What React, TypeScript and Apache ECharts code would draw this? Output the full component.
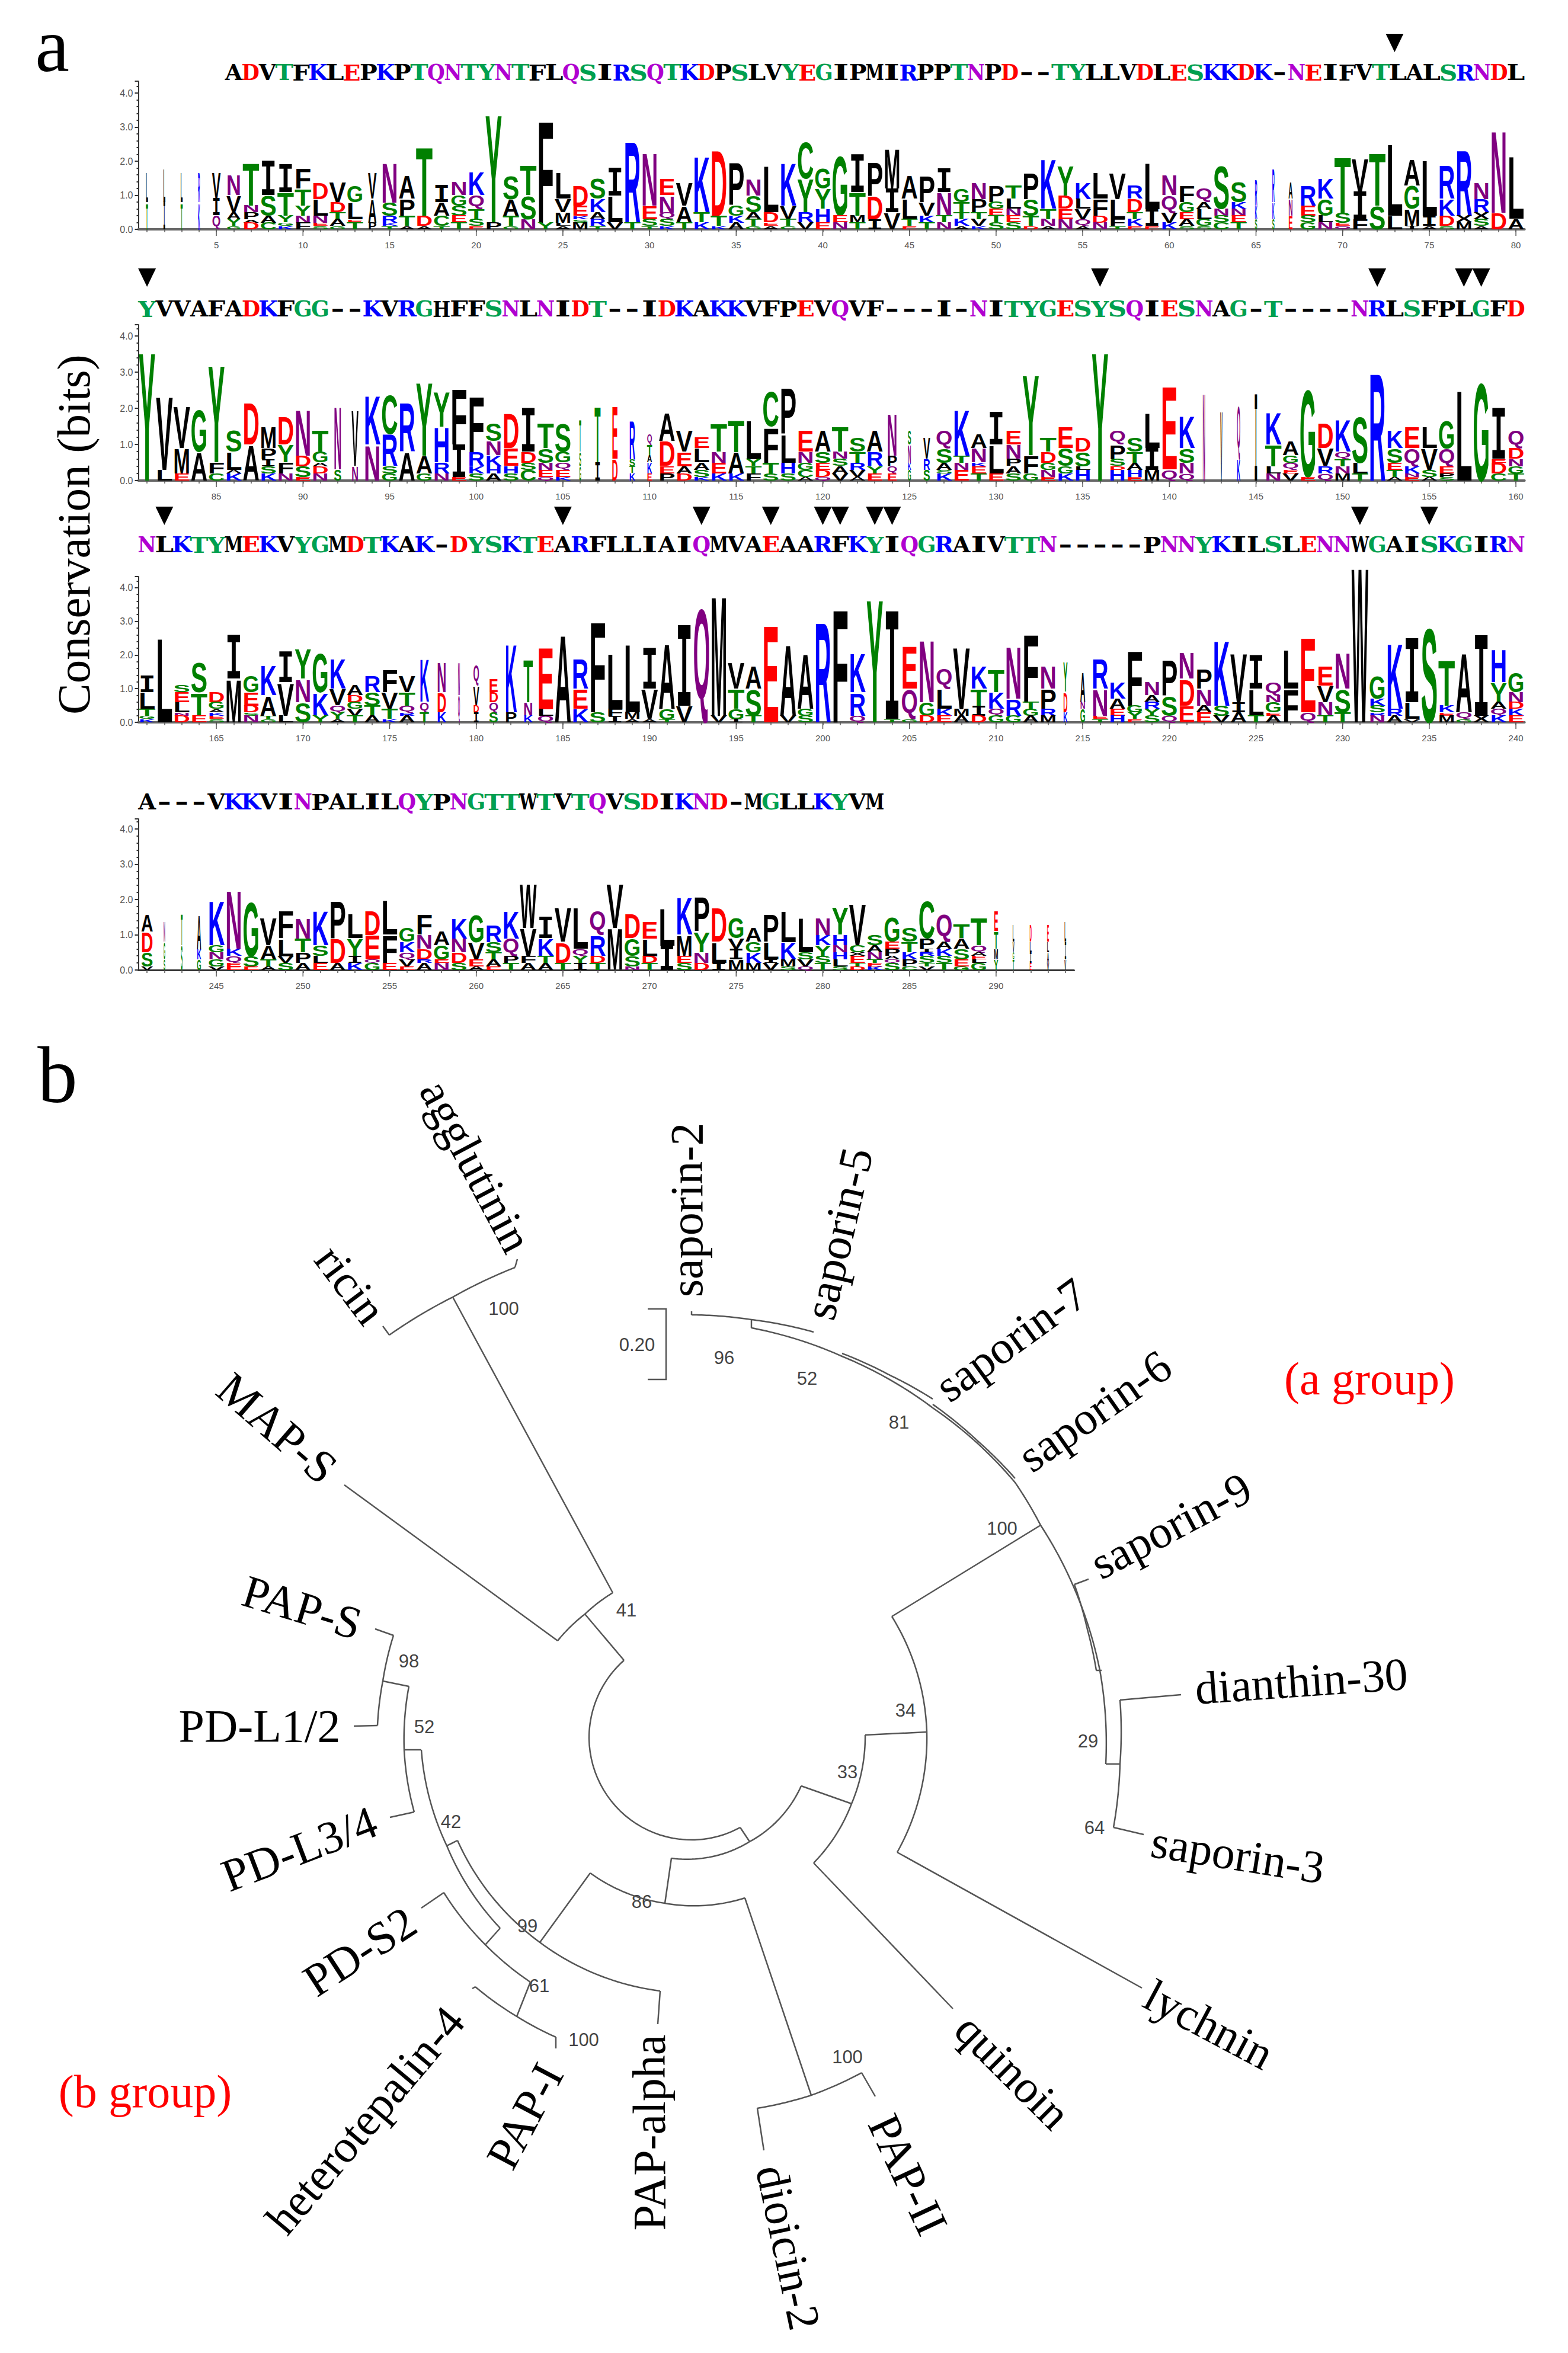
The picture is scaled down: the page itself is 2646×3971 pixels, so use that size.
import React, { useEffect, useRef } from "react";
import * as echarts from "echarts";

// ---------- panel a: sequence logo, "width%:" prefix then LETTER + height in tenths of a bit, top to bottom
const logoRow1 = [
  "12:L9T8","12:L10I8","12:L9T8","12:R9K8","50:V8I5Q4","85:N6V5A2Y2G1","T13N2P2A1D2","I10S6A2C2","I8T7Y2G1K1","F6T5Y3N2F2",
  "D5L5N2E1S1","V6D3T2A2G1","G5L5E1T2","50:V8A7P2","N12S4R2K1T1","A7P5T3A1","T21D3A1","I5A4C3T1","N4G3S3E2T2","K7Q4T3S2E1",
  "Y33P2","S7A5T3G1","T9S7N3","F31Y2","L8V4M3L1A1","D6E3K1S1M2","S6K4A2R2T1","I8L8V2","R25T2","N16E4S2T1",
  "E5N5Q2S2K1","V7A5T2","K17T3K2","D20T3K1","P13G3K2A2","N5S5A2T2G1","L14D3E1A1","K13V4T2C1","C11Y10R3V2","G6Y6H4E2",
  "G18E2N2","I11T7M2T2","P10D7I3","M12I7V5","A7L6T2E1","P8V4K2T2","I7N7T2N2","G4T3T2K2A1","N5P4T2V2K1","P5G2E2T2S2",
  "T4L3N2E2S2","P8S5T3D1","K15T3N2A1","Y9D4E3N3","K5L3V3Q2A1","L8F5D2N2","V8L6F2T1","R4D4T2K2E1","L14I5E1","N6Q5V3K2",
  "F5G3E2A2S1","Q4A2L3G2S1","S13N2S2C2","S6K2N2E2T2","14:R8K4S3","14:R10K5S3","25:A5N5E4","R6E3S2G2","K6G5L2N2","T17S3E1Q1",
  "V10I8F3","T16S7","L22L4","A8G7M5I1","L17I3A1","R10K5D3S1","R20X2M2","N5R4X2S2A1","N25D5","L19A3"
];
const logoRow2 = [
  "Y37","V21L3","V12M7E2","G12A8","Y28F3C2","S6L5A1K2","D12A10","M6P3I2S2K2","D8Y5F3N2","N13D3S3E1",
  "T6G3A1D2N2","45:N18S3","40:V16N4","K14N10","C11R9S2G2","R14A8","Y21A5G2","Y10H10R3N2","F16I9E1","F16R4K2S2",
  "S5N4K3H2A2","D10E5H2S2","I12D3S2C3","T7S4N2E2Q1","S8G3Q2E2K1","12:T9S4G4","35:T16I5","35:E15D6","35:R11S2T2K2","30:Q3T3A2K3E2",
  "A8D7E2P2","V6E4A2D2","E3L4A2S2K1","T8N3E3K2","T9A6K2","L11Y2T2F2","C10F10T3S2","P13L8H3S2","E6N3G2C2A1","A6S3E2D2Q1",
  "T7N2S2A2V2","S4T3R2V2A1","A6R4Y2E2","60:N12P3Q2E2","20:S4N5K2G3","40:V6R3S3","Q5S4A2S1K2","K13T2N2E3","A4N4K1E2T2","I9L8E2",
  "E4N4P2A2S2","Y23F5G2","T4D3G2N2E1","E6S5G2K2","D4S4L1H3","Y37","Q4P4S2D1H3","S4T3A2H2E1","L10I6M3","E24Q3",
  "K9S4N3Q2","15:N25","12:V20","20:Q15K6","18:I24","K9T6L2N2","A4G2Q2E1V2","G25E1","D7V5R2Q2","K9Q2T2N2M2",
  "S13L3T2","R31","K5S4E2T2A1","E6Q5K2N1E1","L6V6S2A1","G8Q5E2P1S1","L26","G28","I14E1D3C2","Q5D3N2G2T2"
];
const logoRow3 = [
  "I5L5T2G1K1","L26","S2E3L3N1D2","S9T7E2","D3G2A1K1E1S1","I13M13","G5E4D2S1N2","K9A6T1G1","I9V10L2","Y9N7S6",
  "G12K7Y2","K9V5Q2Y2A1","A3D2G2V2T2","R5S4T3A2","F7V5T3K1","V5T4Q2R1A2","55:K13Q3T3","55:N9D6K3","12:N10Q8","35:Q6V6D2I3",
  "55:E4D3Q3S3","70:K21P3","55:T13N4K2","E19L2Q2","A27","R9E6K4","F28S3","L17F2I2","L21M2A1","I12V9A1",
  "A20G3T1","I24V5","Q35","M37V2","V8T6G3I1","A7S8T2","E30","A22V2","A17G2S2","R31",
  "F35","K12R7Q2","Y38","I32T1","E13Q9G1","N19G4D2","Q6L6K2E2","V19M2A2","K7T5I3D2","T7K5Q2G2",
  "N16R5G2","F21T2G2A2","N7P6R2M2","25:Y9D6K3","30:A9N2G4","R9N8E1T1","K5A3E2H2","F17G2Y2E1","N4A2R2Y2S2","P11S6Q2",
  "N8D8E5","P6N5A2E3","K20S3V2","V15I3A3","I10L8T2","Q4N2G3E1A2","L12F10","E23Q3","E6V5N4T2","N11S7T3",
  "W48","G7K2S2R1N2","K20R2A2","I19L5V1","S29","T14K2E1M2","A18Q2G1","I24X2","H10Y6A2Q2K2","G6N3D2K2E2"
];
const logoRow4 = [
  "70:A5D6S4V1","10:N6G5S3","10:T9S7","25:A10K3G3","K13G2N2G2V1","N17K2Q2E1E1","G16S3E1","V8A4T2A1","F8L5V2S2","N6T4P3A2",
  "K10S3L2E2","P11D7A2","L7Y5I2K2","D7E7Q1G2","L10F8E2","G4K3Q2V2E1","F6N4D3R1A2","A4G4E1N2","K6N4D3S2","G8V5E2A1",
  "R5S3T2A2E1","K8Q5P2T2","W13V8F2A2","I6K5T2A2","V10D6T2","L12Q2Y2I2","Q7R6D2T2","V13M12","D7G5S3N1","E5L5D2T2",
  "L11I7","K11M6E2S2","P10Y6N3D2","D10L6I2","G6V3I3M3","A4G3K3M2","P8L5I1V2","L9K5M2S1","L10S2V2Q1","N5K3Y3S2T2",
  "Y8H3N2H2L2S1","V12C2X1E2T1D1","S3A2N2T1E1K1","G7E2P2A1Q1S2","S4T3K2P2C1","C11P3I1R1S2T1V1","Q8A2K2S2T2","T4A3S3E2G1","T8Q2A1E1L1G2","25:E6T5M3Y3",
  "10:L5V3G2T3","12:D5L3I3E2","12:E5L3A3V2","10:L6I5V3"
];
const sequenceRows = [
  "ADVTFKLEPKPTQNTYNTFLQSIRSQTKDPSLVYEGIPMIRPPTNPD--TYLLVDLESKKDK-NEIFVTLALSRNDL",
  "YVVAFADKFGG--KVRGHFFSNLNIDT--IDKAKKVFPEVQVF---I-NITYGESYSQIESNAG-T----NRLSFPLGFD",
  "NLKTYMEKVYGMDTKAK-DYSKTEARFLLIAIQMVAEAARFKYIQGRAIVTTN-----PNNYKILSLENNWGAISKGIRN",
  "A---VKKVINPALILQYPNGTTWTVTQVSDIKND-MGLLKYVM",
];
const arrowsRow1 = [73];
const arrowsRow2 = [81, 136, 152, 157, 158];
const arrowsRow3 = [162, 185, 193, 197, 200, 201, 203, 204, 231, 235];
const arrowsRow4: number[] = [];

// ---------- panel b: tree branches in page coordinates (hidden axes 0-2646, 0-3971)
const treeCentre = [1169, 2934];
const arcBranches = [
  [[657,2253],[764,2189],[869,2139]],
  [[1034,2688],[987,2724],[941,2769]],
  [[1053,2802],[994,2934],[1169,3105],[1249,3084]],
  [[1133,3136],[1265,3108],[1352,3014]],
  [[1460,2928],[1437,3044],[1373,3144]],
  [[1505,2728],[1564,2923],[1514,3126]],
  [[1268,2241],[1421,2289],[1574,2376],[1713,2502],[1756,2574],[1813,2681],[1856,2819],[1866,2977]],
  [[1167,2219],[1268,2227],[1373,2248]],
  [[1421,2284],[1500,2320],[1574,2361]],
  [[1574,2370],[1650,2432],[1713,2495]],
  [[1813,2674],[1835,2750],[1850,2819]],
  [[1890,2869],[1890,2977],[1879,3084]],
  [[996,3161],[1122,3212],[1257,3203]],
  [[772,3106],[911,3278],[1114,3360]],
  [[711,2953],[754,3115],[844,3254]],
  [[749,3194],[819,3282],[895,3345]],
  [[802,3353],[872,3403],[938,3438]],
  [[1278,3558],[1369,3536],[1454,3498]],
  [[664,2760],[646,2837],[637,2912]],
  [[690,2846],[682,2953],[699,3058]],
];
const straightBranches = [
  [[646,2238],[657,2253]],[[869,2139],[873,2125]],[[764,2189],[1034,2688]],[[941,2769],[581,2506]],
  [[987,2724],[1053,2802]],[[1249,3084],[1265,3108]],[[1352,3014],[1437,3044]],[[1460,2928],[1564,2923]],
  [[1514,3126],[1927,3355]],[[1373,3144],[1608,3390]],[[1505,2728],[1756,2574]],[[1866,2977],[1890,2977]],
  [[1890,2869],[1993,2860]],[[1879,3084],[1930,3096]],[[1813,2674],[1837,2665]],[[1850,2819],[1859,2819]],
  [[1167,2213],[1167,2219]],[[1268,2227],[1268,2241]],[[1133,3136],[1122,3212]],[[996,3161],[911,3278]],
  [[1114,3360],[1110,3416]],[[754,3115],[772,3106]],[[844,3254],[819,3282]],[[895,3345],[872,3403]],
  [[802,3353],[797,3356]],[[938,3438],[938,3457]],[[749,3194],[711,3220]],[[1257,3203],[1369,3536]],
  [[1278,3558],[1289,3629]],[[1454,3498],[1477,3538]],[[633,2749],[664,2760]],[[637,2912],[597,2913]],
  [[646,2837],[690,2846]],[[699,3058],[658,3067]],[[682,2953],[711,2953]],
  [[1093,2209],[1124,2209],[1124,2328],[1093,2328]],
];
// name, centre x, centre y, rotation in degrees (counter-clockwise positive)
const taxa: [string, number, number, number][] = [
  ["agglutinin",803,1968,-62],["ricin",592,2168,-53],["MAP-S",468,2410,-41],["PAP-S",510,2713,-17],
  ["PD-L1/2",438,2912,0],["PD-L3/4",505,3120,21],["PD-S2",607,3293,33],["heterotepalin-4",616,3578,50],
  ["PAP-I",886,3571,62],["PAP-alpha",1095,3599,90],["dioicin-2",1330,3793,-78],["PAP-II",1532,3670,-65],
  ["quinoin",1709,3496,-45],["lychnin",2040,3417,-28],["saporin-3",2089,3130,-9],["dianthin-30",2196,2837,4],
  ["saporin-9",1976,2575,28],["saporin-6",1847,2381,35],["saporin-7",1706,2261,36],["saporin-5",1415,2082,77],
  ["saporin-2",1158,2042,90],
];
const bootstrap: [string, number, number][] = [
  ["100",850,2208],["0.20",1075,2269],["96",1222,2291],["52",1362,2326],["81",1517,2400],["100",1691,2579],
  ["41",1057,2717],["98",690,2803],["52",716,2914],["42",761,3074],["99",890,3250],["61",910,3351],
  ["100",985,3442],["86",1083,3209],["100",1430,3471],["34",1528,2886],["33",1430,2990],["29",1836,2938],["64",1847,3084],
];

// ---------- styling
const LOGO_W = 29.24;
const GRID_LEFT = 233.5;
const rowsCfg = [
  { cols: logoRow1, first: 1, base: 387, top: 137, bit: 57.5, arrows: arrowsRow1, arrowTop: 57, seqY: 122, seqX: 380, seqP: 28.47 },
  { cols: logoRow2, first: 81, base: 811, top: 548, bit: 61, arrows: arrowsRow2, arrowTop: 453, seqY: 521, seqX: GRID_LEFT, seqP: LOGO_W },
  { cols: logoRow3, first: 161, base: 1219, top: 973, bit: 56.8, arrows: arrowsRow3, arrowTop: 855, seqY: 919, seqX: GRID_LEFT, seqP: LOGO_W },
  { cols: logoRow4, first: 241, base: 1637, top: 1382, bit: 59.5, arrows: arrowsRow4, arrowTop: 0, seqY: 1353, seqX: GRID_LEFT, seqP: LOGO_W },
];
const advance: Record<string, number> = { A:.722,C:.722,D:.722,E:.667,F:.611,G:.778,H:.722,I:.6,K:.722,L:.611,M:.833,N:.722,P:.667,Q:.778,R:.722,S:.667,T:.611,V:.667,W:.944,X:.667,Y:.667 };
const serifAdvance: Record<string, number> = { A:.776,C:.795,D:.83,E:.73,F:.694,G:.82,H:.945,I:.468,K:.775,L:.664,M:1.024,N:.875,P:.733,Q:.85,R:.77,S:.685,T:.71,V:.776,W:1.1,Y:.71 };
const logoColor = (c: string) => "GSTYC".includes(c) ? "#008000" : "NQ".includes(c) ? "#800080" : "KRH".includes(c) ? "#0000ff" : "DE".includes(c) ? "#ff0000" : "#000000";
const seqColor = (c: string) => "GSTY".includes(c) ? "#00a050" : "NQ".includes(c) ? "#b000d0" : "KR".includes(c) ? "#0000ff" : "DE".includes(c) ? "#ff0000" : "#000000";

type Item = { idx: number; y0: number; y1: number; c: string; wf: number };
function parseCols(cols: string[]): Item[] {
  const out: Item[] = [];
  cols.forEach((s, idx) => {
    let wf = 0.97; let body = s;
    const m = s.match(/^(\d+):(.*)$/);
    if (m) { wf = +m[1] / 100; body = m[2]; }
    const toks = [...body.matchAll(/([A-Z])(\d+)/g)].map((t) => ({ c: t[1], h: +t[2] / 10 }));
    let y = toks.reduce((a, t) => a + t.h, 0);
    for (const t of toks) { out.push({ idx, y0: y - t.h, y1: y, c: t.c, wf }); y -= t.h; }
  });
  return out;
}
function polarPath(pts: number[][]): number[][] {
  const [cx, cy] = treeCentre; const res: number[][] = [pts[0]];
  for (let i = 1; i < pts.length; i++) {
    const [ax, ay] = pts[i - 1], [bx, by] = pts[i];
    const ra = Math.hypot(ax - cx, ay - cy), rb = Math.hypot(bx - cx, by - cy);
    const ta = Math.atan2(ay - cy, ax - cx); let tb = Math.atan2(by - cy, bx - cx);
    while (tb - ta > Math.PI) tb -= 2 * Math.PI;
    while (tb - ta < -Math.PI) tb += 2 * Math.PI;
    for (let k = 1; k <= 24; k++) {
      const f = k / 24, r = ra + (rb - ra) * f, t = ta + (tb - ta) * f;
      res.push([cx + r * Math.cos(t), cy + r * Math.sin(t)]);
    }
  }
  return res;
}

function buildOption() {
  const grids: any[] = [], xAxes: any[] = [], yAxes: any[] = [], series: any[] = [], graphic: any[] = [];
  rowsCfg.forEach((r, i) => {
    const n = r.cols.length;
    grids.push({ left: GRID_LEFT, top: r.top, width: n * LOGO_W, height: r.base - r.top });
    xAxes.push({
      type: "category", gridIndex: i, data: r.cols.map((_, k) => String(r.first + k)),
      axisLine: { lineStyle: { color: i === 3 ? "#333" : "#666", width: i === 3 ? 3 : 4 } },
      axisTick: { show: true, interval: 0, alignWithLabel: true, length: 5, lineStyle: { color: "#555", width: 1.5 } },
      axisLabel: { interval: (_: number, v: string) => +v % 5 === 0, color: "#555", fontSize: 15, fontFamily: "Liberation Sans", margin: 19 },
      splitLine: { show: false },
    });
    yAxes.push({
      type: "value", gridIndex: i, min: 0, max: (r.base - r.top) / r.bit, interval: 1,
      axisLine: { show: true, lineStyle: { color: "#333", width: 2 } },
      axisTick: { show: true, length: 6, lineStyle: { color: "#333", width: 2 } },
      minorTick: { show: true, splitNumber: 5, length: 3, lineStyle: { color: "#333", width: 2 } },
      axisLabel: { showMaxLabel: false, color: "#555", fontSize: 16, fontFamily: "Liberation Sans", margin: 9, formatter: (v: number) => (Number.isInteger(v) ? v.toFixed(1) : "") },
      splitLine: { show: false },
    });
    const items = parseCols(r.cols);
    series.push({
      type: "custom", name: "logo" + i, xAxisIndex: i, yAxisIndex: i, clip: false, silent: true, progressive: 0,
      encode: { x: 0, y: [1, 2] },
      data: items.map((t) => [t.idx, t.y0, t.y1]),
      renderItem: (p: any, api: any) => {
        const t = items[p.dataIndex];
        const [cx, yb] = api.coord([t.idx, t.y0]);
        const [, yt] = api.coord([t.idx, t.y1]);
        const w = api.size([1, 0])[0] * t.wf, h = yb - yt, fs = 40;
        const mono = t.c === "I", q = t.c === "Q";
        const sy = h / ((mono ? 0.66 : q ? 0.92 : 0.729) * fs), sx = w / (advance[t.c] * fs);
        const off = (mono ? 0.0635 : q ? -0.0715 : 0.018) * fs * sy;
        return {
          type: "text", x: cx, y: (yb + yt) / 2 + off, scaleX: sx, scaleY: sy, silent: true,
          style: { text: t.c, fontFamily: mono ? "Liberation Mono" : "Liberation Sans", fontWeight: "bold", fontSize: fs, fill: logoColor(t.c), align: "center", verticalAlign: "middle" },
        };
      },
    });
    const majors = r.cols.map((_, k) => k).filter((k) => (r.first + k) % 5 === 0);
    series.push({
      type: "custom", name: "majorTicks" + i, xAxisIndex: i, yAxisIndex: i, clip: false, silent: true,
      encode: { x: 0, y: 1 }, data: majors.map((k) => [k, 0]),
      renderItem: (_: any, api: any) => {
        const [x, y] = api.coord([api.value(0), 0]);
        return { type: "line", shape: { x1: x, y1: y, x2: x, y2: y + 11 }, style: { stroke: "#555", lineWidth: 1.5 } };
      },
    });
    if (r.arrows.length) {
      series.push({
        type: "custom", name: "arrows" + i, xAxisIndex: i, yAxisIndex: i, clip: false, silent: true,
        encode: { x: 0, y: 1 }, data: r.arrows.map((a) => [a - r.first, 0]),
        renderItem: (_: any, api: any) => {
          const [x] = api.coord([api.value(0), 0]);
          return { type: "polygon", shape: { points: [[x - 15, r.arrowTop], [x + 15, r.arrowTop], [x, r.arrowTop + 31]] }, style: { fill: "#000" } };
        },
      });
    }
  });
  // sequences above the logos, slab-serif letters fitted to one cell
  sequenceRows.forEach((seq, i) => {
    const r = rowsCfg[i];
    [...seq].forEach((c, k) => {
      const fs = 38;
      const adv = serifAdvance[c];
      const sx = c === "-" ? 1.5 : Math.min(1.5, (r.seqP * 1.02) / (adv * fs));
      graphic.push({
        type: "text", x: r.seqX + (k + 0.5) * r.seqP, y: r.seqY, scaleX: sx, silent: true,
        style: { text: c, fontFamily: "DejaVu Serif", fontWeight: "bold", fontSize: fs, fill: seqColor(c), align: "center", verticalAlign: "middle" },
      });
    });
  });
  // tree
  grids.push({ left: 0, top: 0, width: 2646, height: 3971 });
  xAxes.push({ type: "value", gridIndex: 4, min: 0, max: 2646, show: false });
  yAxes.push({ type: "value", gridIndex: 4, min: 0, max: 3971, inverse: true, show: false });
  series.push({
    type: "lines", name: "tree", coordinateSystem: "cartesian2d", xAxisIndex: 4, yAxisIndex: 4, polyline: true, silent: true,
    lineStyle: { color: "#555", width: 2.5, opacity: 1, curveness: 0 },
    data: [...arcBranches.map(polarPath), ...straightBranches].map((coords) => ({ coords })),
  });
  const serif = "Liberation Serif";
  taxa.forEach(([name, x, y, deg]) => graphic.push({
    type: "text", x, y, rotation: (deg * Math.PI) / 180, silent: true,
    style: { text: name, fontFamily: serif, fontSize: 78, fill: "#000", align: "center", verticalAlign: "middle" },
  }));
  bootstrap.forEach(([t, x, y]) => graphic.push({
    type: "text", x, y, silent: true,
    style: { text: t, fontFamily: "Liberation Sans", fontSize: 31, fill: "#444", align: "center", verticalAlign: "middle" },
  }));
  graphic.push(
    { type: "text", x: 88, y: 76, silent: true, style: { text: "a", fontFamily: serif, fontSize: 130, fill: "#000", align: "center", verticalAlign: "middle" } },
    { type: "text", x: 97, y: 1814, silent: true, style: { text: "b", fontFamily: serif, fontSize: 135, fill: "#000", align: "center", verticalAlign: "middle" } },
    { type: "text", x: 124, y: 902, rotation: Math.PI / 2, silent: true, style: { text: "Conservation (bits)", fontFamily: serif, fontSize: 79, fill: "#000", align: "center", verticalAlign: "middle" } },
    { type: "text", x: 2311, y: 2326, silent: true, style: { text: "(a group)", fontFamily: serif, fontSize: 78, fill: "#ff0000", align: "center", verticalAlign: "middle" } },
    { type: "text", x: 245, y: 3529, silent: true, style: { text: "(b group)", fontFamily: serif, fontSize: 78, fill: "#ff0000", align: "center", verticalAlign: "middle" } },
  );
  return { animation: false, backgroundColor: "#fff", tooltip: { show: false }, grid: grids, xAxis: xAxes, yAxis: yAxes, series, graphic };
}

export default function App() {
  const ref = useRef<HTMLDivElement>(null);
  useEffect(() => {
    const chart = echarts.init(ref.current!, undefined, { renderer: "svg" });
    chart.setOption(buildOption() as any);
    return () => chart.dispose();
  }, []);
  return <div ref={ref} style={{ position: "absolute", left: 0, top: 0, width: 2646, height: 3971 }} />;
}
